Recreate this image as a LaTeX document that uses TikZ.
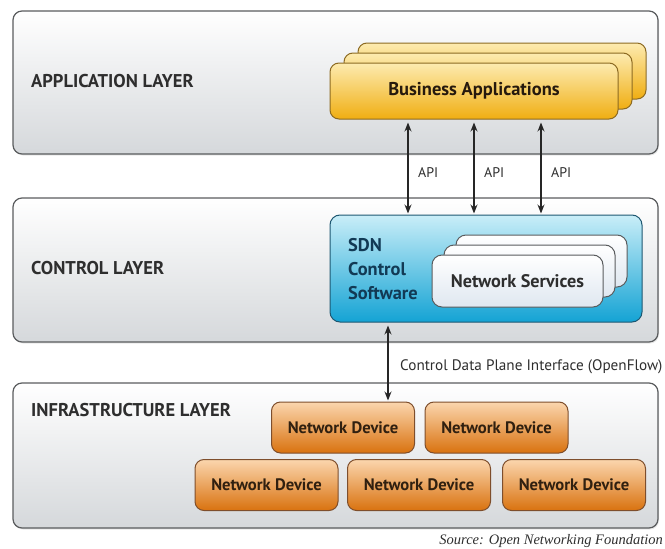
\documentclass[tikz,border=0pt]{standalone}
\usepackage{fontspec}
\setmainfont{PT Sans}
\newfontfamily\srcfont{Liberation Serif}
\usetikzlibrary{arrows.meta,shadows}
\definecolor{txtgrey}{HTML}{2E2E2E}
\definecolor{layerborder}{HTML}{5A5C5E}
\definecolor{layerbot}{HTML}{D5D8DB}
\definecolor{goldtop}{HTML}{FDEBB0}
\definecolor{goldbot}{HTML}{F0AE12}
\definecolor{goldborder}{HTML}{8C6A22}
\definecolor{cyantop}{HTML}{C9EEF8}
\definecolor{cyanbot}{HTML}{14A3D4}
\definecolor{cyanborder}{HTML}{1E5872}
\definecolor{nstop}{HTML}{FFFFFF}
\definecolor{nsbot}{HTML}{DFE7F0}
\definecolor{orangetop}{HTML}{FBD6AE}
\definecolor{orangebot}{HTML}{D9720F}
\definecolor{orangeborder}{HTML}{7E4E2C}
\definecolor{sdntext}{HTML}{123A55}
\begin{document}
\begin{tikzpicture}[x=1pt,y=-1pt,
  layerbox/.style={draw=layerborder, line width=1.2pt, rounded corners=9pt,
    top color=white, bottom color=layerbot, minimum width=645pt, inner sep=0pt,
    drop shadow={opacity=0.18, shadow xshift=1pt, shadow yshift=-1.5pt}},
  layerlabel/.style={anchor=west, font=\fontsize{18.5}{22}\selectfont\bfseries, text=txtgrey, inner sep=0pt},
  bizbox/.style={draw=goldborder, line width=1pt, rounded corners=9pt,
    top color=goldtop, bottom color=goldbot, minimum width=288pt, minimum height=56pt, inner sep=0pt,
    font=\fontsize{18.5}{22}\selectfont\bfseries, text=black!80!brown},
  sdnbox/.style={draw=cyanborder, line width=1pt, rounded corners=10pt,
    top color=cyantop, bottom color=cyanbot, minimum width=312pt, minimum height=107pt, inner sep=0pt},
  nsbox/.style={draw=layerborder, line width=1pt, rounded corners=10pt,
    top color=nstop, bottom color=nsbot, minimum width=171pt, minimum height=52pt, inner sep=0pt,
    font=\fontsize{18.2}{22}\selectfont\bfseries, text=txtgrey},
  devbox/.style={draw=orangeborder, line width=1pt, rounded corners=9pt,
    top color=orangetop, bottom color=orangebot, minimum width=143pt, minimum height=51pt, inner sep=0pt,
    font=\fontsize{16.6}{20}\selectfont\bfseries, text=black!75!brown},
  biarrow/.style={{Stealth[length=9pt,width=7pt]}-{Stealth[length=9pt,width=7pt]}, line width=1.3pt, black!85},
  smalllabel/.style={anchor=west, inner sep=0pt, text=txtgrey}
]
\useasboundingbox (0,0) rectangle (665,549);

% layers
\node[layerbox, minimum height=143pt] (app) at (335.5,82.5) {};
\node[layerbox, minimum height=144pt] (ctrl) at (335.5,270) {};
\node[layerbox, minimum height=145pt] (infra) at (335.5,455.5) {};

\node[layerlabel] (applbl) at (31,81) {APPLICATION LAYER};
\node[layerlabel] (ctrllbl) at (31,268) {CONTROL LAYER};
\node[layerlabel] (infralbl) at (31,410) {INFRASTRUCTURE LAYER};

% business applications stack
\node[bizbox] (ba3) at (502,71) {};
\node[bizbox] (ba2) at (488,81) {};
\node[bizbox] (ba) at (474,91) {Business Applications};

% SDN control software
\node[sdnbox] (sdn) at (486,268.5) {};
\node[anchor=west, align=left, inner sep=0pt, text=sdntext,
      font=\fontsize{18.4}{24}\selectfont\bfseries] (sdnlbl) at (348,269) {SDN\\Control\\Software};
\node[nsbox] (ns3) at (541.5,261) {};
\node[nsbox] (ns2) at (529.5,271) {};
\node[nsbox] (ns) at (517.5,281) {Network Services};

% network devices
\node[devbox] (nd1) at (343,427.5) {Network Device};
\node[devbox] (nd2) at (496.5,427.5) {Network Device};
\node[devbox] (nd3) at (266.5,485) {Network Device};
\node[devbox] (nd4) at (419,485) {Network Device};
\node[devbox] (nd5) at (574,485) {Network Device};

% API arrows
\coordinate (a1) at (408,0);
\coordinate (a2) at (474,0);
\coordinate (a3) at (541,0);
\draw[biarrow, shorten <=3pt, shorten >=1pt] (ba.south -| a1) -- (sdn.north -| a1);
\draw[biarrow, shorten <=3pt, shorten >=1pt] (ba.south -| a2) -- (sdn.north -| a2);
\draw[biarrow, shorten <=3pt, shorten >=1pt] (ba.south -| a3) -- (sdn.north -| a3);
\node[smalllabel, font=\fontsize{14}{16}\selectfont] (api1) at (418,173) {API};
\node[smalllabel, font=\fontsize{14}{16}\selectfont] (api2) at (484,173) {API};
\node[smalllabel, font=\fontsize{14}{16}\selectfont] (api3) at (551,173) {API};

% control data plane arrow
\coordinate (c1) at (388,0);
\draw[biarrow, shorten <=3pt, shorten >=1pt] (sdn.south -| c1) -- (nd1.north -| c1);
\node[smalllabel, font=\fontsize{15.2}{17}\selectfont] (cdpi) at (400,367) {Control Data Plane Interface (OpenFlow)};

% source
\node[anchor=east, inner sep=0pt, text=txtgrey, font=\srcfont\itshape\fontsize{14.5}{16}\selectfont] (src) at (663,541) {Source: Open Networking Foundation};
\end{tikzpicture}
\end{document}
